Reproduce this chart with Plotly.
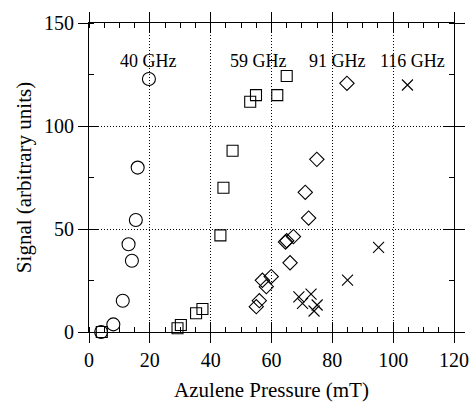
import plotly.graph_objects as go

# 40 GHz (circles)
c_x = [4.0, 8.0, 11.1, 14.1, 13.0, 15.4, 16.0, 19.7]
c_y = [0.0, 3.7, 15.2, 34.6, 42.6, 54.4, 79.8, 122.8]
# 59 GHz (squares)
s_x = [4.2, 29.1, 30.2, 35.2, 37.3, 43.2, 44.2, 47.2, 53.0, 54.9, 61.9, 65.0]
s_y = [0.0, 1.8, 3.4, 9.1, 11.2, 46.9, 70.0, 88.0, 111.8, 115.0, 115.0, 124.3]
# 91 GHz (diamonds)
d_x = [55.0, 56.0, 58.3, 57.0, 59.9, 66.1, 64.6, 65.0, 67.2, 72.2, 71.1, 74.9, 84.8]
d_y = [12.3, 15.2, 22.0, 25.1, 26.9, 33.6, 43.7, 44.3, 46.3, 55.3, 67.8, 83.8, 120.7]
# 116 GHz (crosses)
x_x = [74.0, 75.0, 70.2, 69.0, 73.0, 85.0, 95.2, 104.7]
x_y = [10.2, 13.1, 13.9, 17.1, 18.4, 25.2, 41.1, 119.9]

labels = ["40 GHz", "59 GHz", "91 GHz", "116 GHz"]
label_x = [19.4, 55.6, 81.7, 106.2]
label_y = [131.5, 131.5, 131.5, 131.5]

FONT = "Liberation Serif"

fig = go.Figure()
mk = dict(color="black", line=dict(color="black", width=1.1))
fig.add_trace(go.Scatter(x=c_x, y=c_y, mode="markers", cliponaxis=False,
                         marker=dict(symbol="circle-open", size=13, **mk)))
fig.add_trace(go.Scatter(x=s_x, y=s_y, mode="markers", cliponaxis=False,
                         marker=dict(symbol="square-open", size=11, **mk)))
fig.add_trace(go.Scatter(x=d_x, y=d_y, mode="markers", cliponaxis=False,
                         marker=dict(symbol="diamond-open", size=11, **mk)))
fig.add_trace(go.Scatter(x=x_x, y=x_y, mode="markers", cliponaxis=False,
                         marker=dict(symbol="x-thin-open", size=11, **mk)))
# invisible trace on overlay axes so inside ticks get drawn
fig.add_trace(go.Scatter(x=[0], y=[0], xaxis="x2", yaxis="y2", mode="markers",
                         marker=dict(opacity=0), hoverinfo="skip"))

for lx, ly, t in zip(label_x, label_y, labels):
    fig.add_annotation(x=lx, y=ly, text=t, showarrow=False,
                       font=dict(family=FONT, size=18, color="black"))

common = dict(showline=True, linecolor="black", linewidth=1, mirror="ticks",
              tickcolor="black", ticklen=10, tickwidth=1, zeroline=False,
              automargin=False)
fig.update_layout(
    width=471, height=404,
    margin=dict(l=89, r=17, t=23, b=72),
    plot_bgcolor="white", paper_bgcolor="white",
    showlegend=False,
    font=dict(family=FONT, size=20, color="black"),
    xaxis=dict(range=[0, 120], dtick=20, ticks="outside",
               showgrid=True, gridcolor="black", griddash="1px,2px", gridwidth=1,
               minor=dict(ticks="inside", dtick=5, ticklen=5, tickcolor="black", showgrid=False),
               title=dict(text="Azulene Pressure (mT)", font=dict(size=21), standoff=12),
               tickfont=dict(size=20), **common),
    yaxis=dict(range=[0, 150], dtick=50, ticks="outside",
               showgrid=True, gridcolor="black", griddash="1px,2px", gridwidth=1,
               minor=dict(ticks="inside", dtick=25, ticklen=5, tickcolor="black", showgrid=False),
               title=dict(text="Signal (arbitrary units)", font=dict(size=21), standoff=6),
               tickfont=dict(size=20), **common),
    xaxis2=dict(range=[0, 120], dtick=20, ticks="inside", overlaying="x",
                showgrid=False, showticklabels=False, **common),
    yaxis2=dict(range=[0, 150], dtick=50, ticks="inside", overlaying="y",
                showgrid=False, showticklabels=False, **common),
)

fig.write_html(
    "out.html",
    config={"displayModeBar": False},
    post_script="document.body.style.margin='0';document.body.style.overflow='hidden';",
)
